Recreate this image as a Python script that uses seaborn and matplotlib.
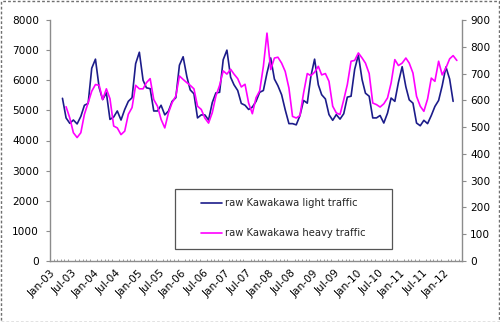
import matplotlib
matplotlib.use("Agg")
import numpy as np
import pandas as pd
import seaborn as sns
import matplotlib.pyplot as plt
from matplotlib.patches import Rectangle

# ---- data ----
light_start = "2003-04-01"
light_traffic = [
    5400, 4750, 4570, 4680, 4550, 4800, 5170, 5230, 6400,
    6700, 5750, 5360, 5580, 4700, 4780, 4980, 4680, 5030, 5300, 5420, 6550,
    6930, 6000, 5750, 5720, 4980, 4980, 5170, 4850, 4980, 5300, 5420, 6500,
    6780, 6120, 5680, 5550, 4750, 4850, 4850, 4680, 5260, 5580, 5600, 6680,
    7000, 6100, 5850, 5660, 5230, 5170, 5030, 5110, 5300, 5600, 5660, 6240,
    6740, 6040, 5820, 5520, 5020, 4560, 4560, 4520, 4830, 5330, 5240, 6130,
    6700, 5850, 5520, 5380, 4860, 4670, 4860, 4710, 4890, 5440, 5470, 6360,
    6840, 6020, 5570, 5470, 4750, 4750, 4830, 4580, 4910, 5410, 5300, 5930,
    6450, 5780, 5350, 5240, 4580, 4490, 4670, 4560, 4830, 5130, 5330, 5820,
    6440, 6040, 5300,
]
heavy_start = "2003-05-01"
heavy_traffic = [
    576, 534, 479, 461, 479, 548, 591, 634,
    659, 656, 603, 643, 606, 504, 497, 472, 485, 548, 573, 656,
    643, 643, 666, 681, 603, 578, 529, 497, 554, 591, 616, 691,
    678, 666, 656, 643, 578, 566, 534, 515, 554, 616, 656, 710,
    698, 716, 698, 681, 650, 660, 590, 550, 610, 635, 727, 851,
    715, 758, 761, 739, 708, 646, 540, 534, 543, 627, 700, 692,
    705, 727, 695, 700, 671, 578, 553, 547, 602, 659, 746, 749,
    777, 758, 739, 700, 590, 584, 575, 587, 609, 665, 752, 730,
    739, 758, 739, 702, 615, 578, 559, 605, 683, 671, 746, 695,
    721, 755, 767, 749,
]
series_names = ["raw Kawakawa light traffic", "raw Kawakawa heavy traffic"]
left_ticks = [0, 1000, 2000, 3000, 4000, 5000, 6000, 7000, 8000]
right_ticks = [0, 100, 200, 300, 400, 500, 600, 700, 800, 900]
x_tick_start, x_tick_end = "2003-01-01", "2012-01-01"

# ---- build frames ----
light_dates = pd.date_range(light_start, periods=len(light_traffic), freq="MS") + pd.Timedelta(days=14)
heavy_dates = pd.date_range(heavy_start, periods=len(heavy_traffic), freq="MS") + pd.Timedelta(days=14)
df_light = pd.DataFrame({"date": light_dates, "value": light_traffic})
df_heavy = pd.DataFrame({"date": heavy_dates, "value": heavy_traffic})

sns.set_theme(style="white")
plt.rcParams["font.family"] = ["DejaVu Sans"]

W, H = 500, 322
fig = plt.figure(figsize=(W / 100, H / 100), dpi=100)
fig.patch.set_facecolor("white")
ax = fig.add_axes([50 / W, 1 - 261 / H, 412 / W, 241 / H])
ax2 = ax.twinx()

sns.lineplot(data=df_light, x="date", y="value", ax=ax, color="#1c1c8a", lw=1.2, legend=False)
sns.lineplot(data=df_heavy, x="date", y="value", ax=ax2, color="#ff00ff", lw=1.2, legend=False)

gray = "#8c8c8c"
ax.set_ylim(0, 8000)
ax2.set_ylim(0, 900)
ax.set_yticks(left_ticks)
ax2.set_yticks(right_ticks)
ax.set_xlim(pd.Timestamp("2003-01-01"), pd.Timestamp("2012-05-28"))
xt = pd.date_range(x_tick_start, x_tick_end, freq="6MS")
ax.set_xticks(xt)
ax.set_xticks(pd.date_range("2003-01-01", "2012-05-01", freq="MS"), minor=True)
ax.set_xticklabels([d.strftime("%b-%y") for d in xt], rotation=45, ha="right",
                   rotation_mode="anchor")
ax.set_xlabel("")
ax.set_ylabel("")
ax2.set_ylabel("")

for a in (ax, ax2):
    a.set_facecolor("none")
    a.spines["top"].set_visible(False)
    for s in a.spines.values():
        s.set_color(gray)
        s.set_linewidth(1.0)
    a.tick_params(colors=gray, labelcolor="black", labelsize=7.6, direction="out",
                  length=3, width=0.8)
ax.tick_params(axis="x", which="minor", direction="in", length=1.5, width=0.6, colors=gray,
               bottom=True)
ax.spines["right"].set_visible(False)
ax2.spines["left"].set_visible(False)
ax2.spines["bottom"].set_visible(False)
ax.tick_params(axis="y", pad=5)
ax2.tick_params(axis="y", pad=3)
ax.tick_params(axis="x", which="major", pad=2)
ax.grid(False)
ax2.grid(False)

# legend with a separate frame
handles = [ax.lines[0], ax2.lines[0]]
fig.patches.append(Rectangle((175 / W, 1 - 249 / H), 217 / W, 60 / H, transform=fig.transFigure,
                             facecolor="white", edgecolor="#555555", lw=0.9, zorder=5))
leg = fig.legend(handles, series_names, loc="upper left",
                 bbox_to_anchor=(201 / W, 1 - 198.5 / H), frameon=False,
                 fontsize=7.2, handlelength=2.1, handletextpad=0.3,
                 labelspacing=2.0, borderpad=0, borderaxespad=0)
leg.set_zorder(6)

# outer dashed border
fig.patches.append(Rectangle((0.5 / W, 0.5 / H), (W - 1.5) / W, (H - 1.5) / H,
                             transform=fig.transFigure, fill=False,
                             edgecolor="#707070", lw=1.0, linestyle=(0, (2, 1.5))))

fig.savefig("out.png", dpi=100)
